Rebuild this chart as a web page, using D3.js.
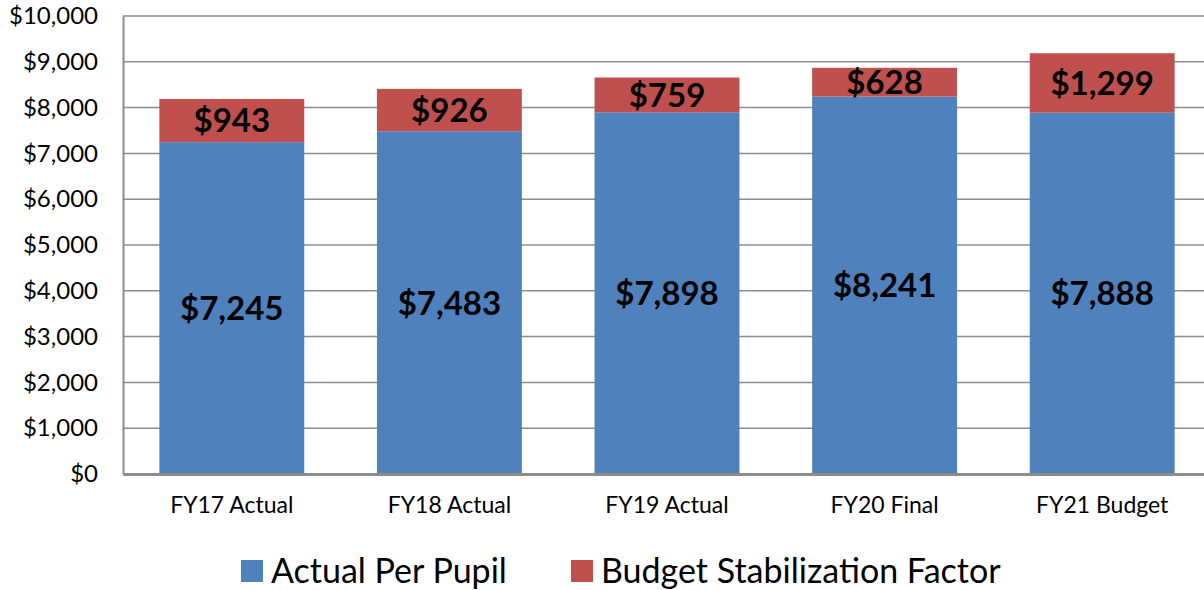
<!DOCTYPE html>
<html>
  <head>
    <script src="https://d3js.org/d3.v7.min.js"></script>
    <style>
      body { margin: 0; background: #fff; }
      text { font-family: Lato, "Open Sans", sans-serif; }
    </style>
  </head>
  <body>
    <svg id="chart" width="1204" height="590"></svg>
    <script>
      // Data
      var categories = ["FY17 Actual", "FY18 Actual", "FY19 Actual", "FY20 Final", "FY21 Budget"];
      var actualPerPupil = [7245, 7483, 7898, 8241, 7888];
      var stabilization = [943, 926, 759, 628, 1299];
      var seriesNames = ["Actual Per Pupil", "Budget Stabilization Factor"];
      var yTicks = [0, 1000, 2000, 3000, 4000, 5000, 6000, 7000, 8000, 9000, 10000];

      var colors = ["#4F81BD", "#C0504D"];
      var svg = d3.select("#chart");

      // Plot area (right side runs off the picture, as in the reference)
      var plotLeft = 123, plotTop = 16, plotBottom = 474, plotRight = 1211;

      var x = d3.scaleBand().domain(categories).range([plotLeft, plotRight]).paddingInner(0.334).paddingOuter(0.167);
      var y = d3.scaleLinear().domain([0, 10000]).range([plotBottom, plotTop]);

      var money = function(v) { return "$" + d3.format(",")(v); };

      // Gridlines
      svg.append("g")
        .selectAll("line")
        .data(yTicks.slice(1))
        .enter()
        .append("line")
        .attr("x1", plotLeft).attr("x2", plotRight)
        .attr("y1", function(d) { return y(d); })
        .attr("y2", function(d) { return y(d); })
        .attr("stroke", "#8c8c8c")
        .attr("stroke-width", 1.5);

      // Stacked bars
      var rows = categories.map(function(c, i) {
        return { cat: c, a: actualPerPupil[i], b: stabilization[i] };
      });
      var stack = d3.stack().keys(["a", "b"])(rows);

      svg.append("g")
        .selectAll("g")
        .data(stack)
        .enter()
        .append("g")
        .attr("fill", function(d, i) { return colors[i]; })
        .selectAll("rect")
        .data(function(d) { return d; })
        .enter()
        .append("rect")
        .attr("x", function(d) { return x(d.data.cat); })
        .attr("width", x.bandwidth())
        .attr("y", function(d) { return y(d[1]); })
        .attr("height", function(d) { return y(d[0]) - y(d[1]); });

      // Value labels
      svg.append("g")
        .selectAll("g")
        .data(stack)
        .enter()
        .append("g")
        .selectAll("text")
        .data(function(d) { return d.map(function(p) { return { p: p, key: d.key }; }); })
        .enter()
        .append("text")
        .attr("x", function(d) { return x(d.p.data.cat) + x.bandwidth() / 2; })
        .attr("y", function(d) { return (y(d.p[0]) + y(d.p[1])) / 2; })
        .attr("dy", "0.36em")
        .attr("text-anchor", "middle")
        .style("font-size", "33px")
        .style("font-weight", "bold")
        .text(function(d) { return money(d.p.data[d.key]); });

      // Axes
      var yAxis = svg.append("g")
        .attr("transform", "translate(" + plotLeft + ",0)")
        .call(d3.axisLeft(y).tickValues(yTicks).tickFormat(money).tickSize(0).tickPadding(25));
      yAxis.select(".domain").attr("stroke", "#8c8c8c").attr("stroke-width", 2);
      yAxis.selectAll("text").style("font-size", "24px").attr("fill", "#000")
        .style("font-family", "Lato, 'Open Sans', sans-serif");

      var xAxis = svg.append("g")
        .attr("transform", "translate(0," + plotBottom + ")")
        .call(d3.axisBottom(x).tickSize(0).tickPadding(23));
      xAxis.select(".domain").attr("stroke", "#8c8c8c").attr("stroke-width", 3);
      xAxis.selectAll("text").style("font-size", "23px").attr("fill", "#000")
        .style("font-family", "Lato, 'Open Sans', sans-serif");

      // Legend
      var legendX = [241, 571];
      var legend = svg.append("g")
        .selectAll("g")
        .data(seriesNames)
        .enter()
        .append("g")
        .attr("transform", function(d, i) { return "translate(" + legendX[i] + ",560)"; });
      legend.append("rect")
        .attr("width", 22).attr("height", 22)
        .attr("fill", function(d, i) { return colors[i]; });
      legend.append("text")
        .attr("x", 30).attr("y", 11).attr("dy", "0.36em")
        .style("font-size", "34px")
        .text(function(d) { return d; });
    </script>
  </body>
</html>
